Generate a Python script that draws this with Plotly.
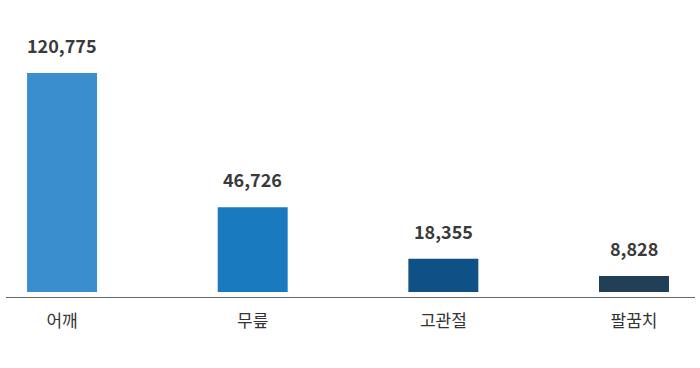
import plotly.graph_objects as go

categories = ["어깨", "무릎", "고관절", "팔꿈치"]
values = [120775, 46726, 18355, 8828]
colors = ["#3a8ecd", "#1a7abf", "#0f5184", "#223f58"]

FONT = "Noto Sans CJK KR"

fig = go.Figure()
fig.add_trace(go.Bar(
    x=categories, y=values, marker=dict(color=colors, line=dict(width=0)),
    width=0.367, hoverinfo="skip",
))

annotations = []
for c, v in zip(categories, values):
    annotations.append(dict(
        x=c, y=v, xref="x", yref="y", text=f"<b>{v:,}</b>", showarrow=False,
        yanchor="bottom", yshift=13,
        font=dict(family=FONT, size=18, color="#3a3a3a"),
    ))

fig.update_layout(
    width=700, height=368,
    margin=dict(l=6, r=5, t=20, b=71),
    paper_bgcolor="white", plot_bgcolor="white",
    showlegend=False,
    annotations=annotations,
    xaxis=dict(
        type="category", range=[-0.294, 3.32],
        showline=True, linecolor="#666666", linewidth=1,
        showgrid=False, zeroline=False,
        ticks="outside", ticklen=9, tickcolor="rgba(0,0,0,0)",
        tickfont=dict(family=FONT, size=17, color="#333333"),
    ),
    yaxis=dict(
        range=[-2757, 150000], visible=False, showgrid=False, zeroline=False,
    ),
)

fig.write_html("out.html")
